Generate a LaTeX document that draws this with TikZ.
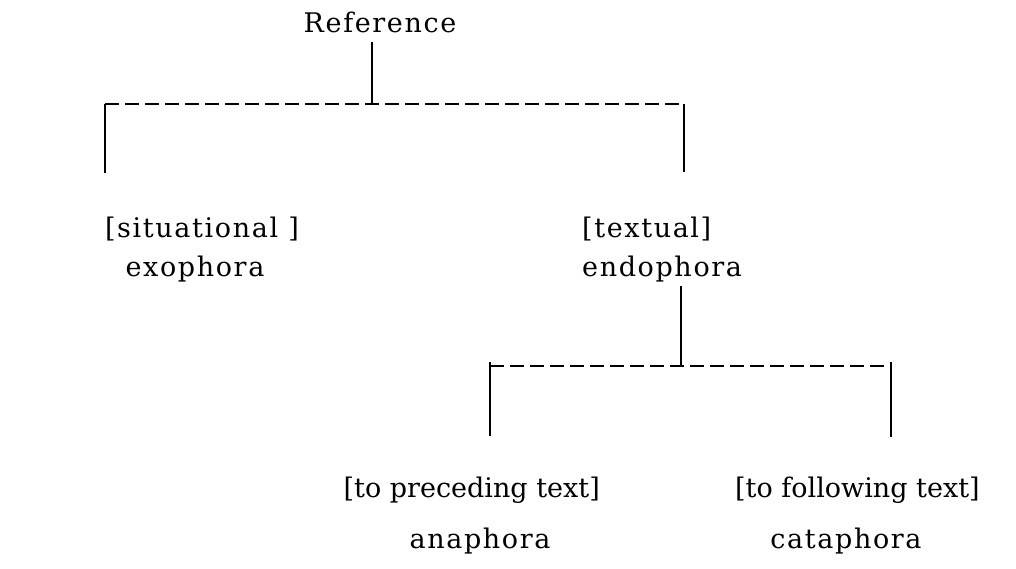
\documentclass[tikz,border=0pt]{standalone}
\usepackage{fontspec}
\setmainfont[LetterSpace=6]{DejaVu Serif}
\newfontfamily\lowfont{DejaVu Serif}
\begin{document}
\begin{tikzpicture}[x=1pt,y=-1pt,
  lbl/.style={anchor=base,inner sep=0pt,font=\fontsize{27}{32}\selectfont},
  lowlbl/.style={inner sep=0pt,font=\lowfont\fontsize{27}{32}\selectfont},
  solidline/.style={line width=1.8pt},
  dashline/.style={line width=1.4pt,dash pattern=on 14pt off 6pt}]
\useasboundingbox (0,0) rectangle (1016,569);
% nodes
\node[lbl] (ref) at (380,33) {Reference};
\node[lbl] (sit) at (202,237) {[situational ]};
\node[lbl] (exo) at (195,276) {exophora};
\node[lbl,anchor=base west] (tex) at (582,237) {[textual]};
\node[lbl,anchor=base west] (endo) at (582,276) {endophora};
\node[lowlbl,anchor=base east] (pre) at (600,497) {[to preceding text]};
\node[lowlbl,anchor=base west] (fol) at (735,497) {[to following text]};
\node[lbl] (ana) at (480,548) {anaphora};
\node[lbl] (cata) at (846,548) {cataphora};
% junction coordinates
\coordinate (j1) at (372,104);
\coordinate (l1) at (105,104);
\coordinate (r1) at (684,104);
\coordinate (l1b) at (105,173);
\coordinate (r1b) at (684,172);
\coordinate (j2) at (681,366);
\coordinate (l2) at (490,366);
\coordinate (r2) at (891,366);
\coordinate (l2b) at (490,436);
\coordinate (r2b) at (891,437);
% connectors
\draw[solidline] (ref.south -| j1) ++(0,8) -- (j1);
\draw[dashline] (l1) -- (r1);
\draw[solidline] (l1) -- (l1b);
\draw[solidline] (r1) -- (r1b);
\draw[solidline] (endo.south -| j2) ++(0,4) -- (j2);
\draw[dashline] (l2) -- (r2);
\draw[solidline] ([yshift=4pt]l2) -- (l2b);
\draw[solidline] ([yshift=4pt]r2) -- (r2b);
\end{tikzpicture}
\end{document}
